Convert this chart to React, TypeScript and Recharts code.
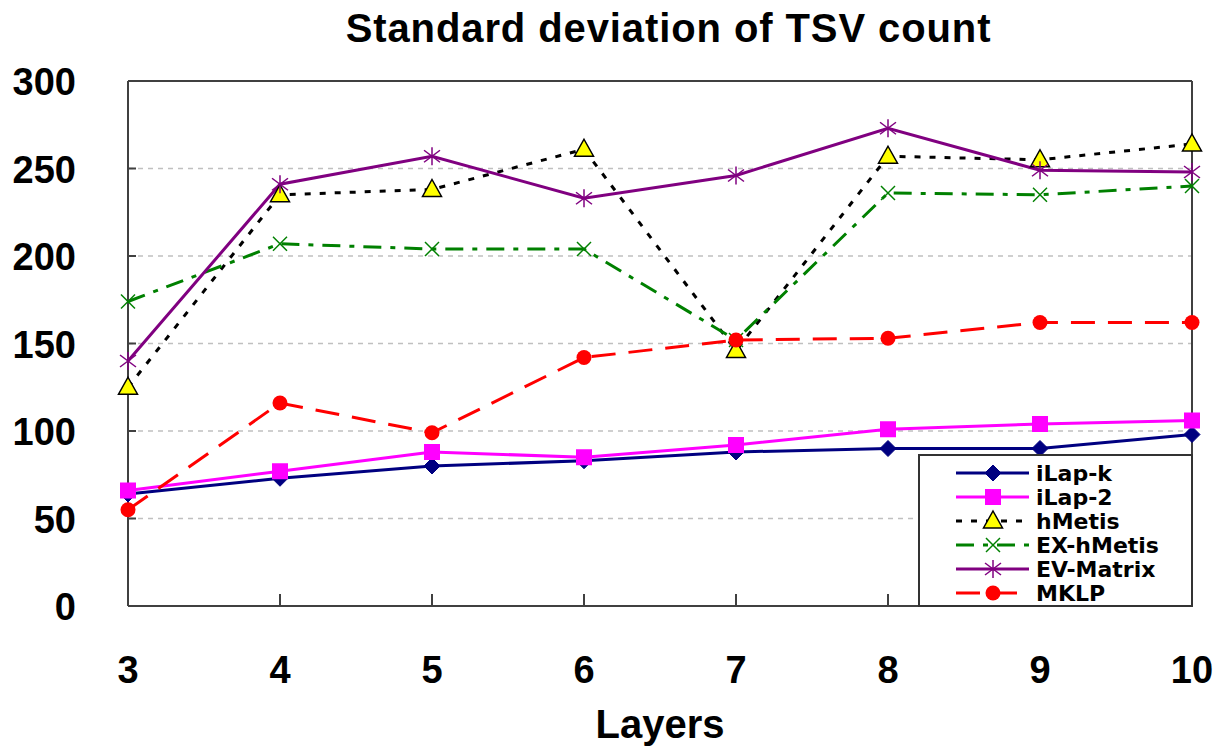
import React from 'react'
import {
  LineChart,
  Line,
  XAxis,
  YAxis,
  CartesianGrid,
  ReferenceLine,
  Legend,
} from 'recharts'

const FONT = "'Liberation Sans', Arial, Helvetica, sans-serif"
const LEGEND_FONT = "'DejaVu Sans', Verdana, sans-serif"

const layers = [3, 4, 5, 6, 7, 8, 9, 10]
const yTicks = [0, 50, 100, 150, 200, 250, 300]

const iLapK = [64, 73, 80, 83, 88, 90, 90, 98]
const iLap2 = [66, 77, 88, 85, 92, 101, 104, 106]
const hMetis = [125, 235, 238, 261, 146, 257, 255, 264]
const exHMetis = [174, 207, 204, 204, 152, 236, 235, 240]
const evMatrix = [140, 241, 257, 233, 246, 273, 249, 248]
const mklp = [55, 116, 99, 142, 152, 153, 162, 162]

type Shape = 'diamond' | 'square' | 'triangle' | 'cross' | 'star' | 'circle'

interface SeriesDef {
  key: string
  name: string
  values: number[]
  color: string
  dash?: string
  shape: Shape
}

const series: SeriesDef[] = [
  { key: 'ilapk', name: 'iLap-k', values: iLapK, color: '#000080', shape: 'diamond' },
  { key: 'ilap2', name: 'iLap-2', values: iLap2, color: '#ff00ff', shape: 'square' },
  { key: 'hmetis', name: 'hMetis', values: hMetis, color: '#000000', dash: '6 9', shape: 'triangle' },
  { key: 'exhmetis', name: 'EX-hMetis', values: exHMetis, color: '#008000', dash: '18 9 5 9', shape: 'cross' },
  { key: 'evmatrix', name: 'EV-Matrix', values: evMatrix, color: '#800080', shape: 'star' },
  { key: 'mklp', name: 'MKLP', values: mklp, color: '#ff0000', dash: '24 13', shape: 'circle' },
]

const data = layers.map((layer, i) => {
  const row: Record<string, number> = { layer }
  series.forEach((s) => {
    row[s.key] = s.values[i]
  })
  return row
})

function Marker({ shape, cx, cy, color }: { shape: Shape; cx: number; cy: number; color: string }) {
  switch (shape) {
    case 'diamond':
      return (
        <polygon
          points={`${cx},${cy - 8} ${cx + 8},${cy} ${cx},${cy + 8} ${cx - 8},${cy}`}
          fill={color}
          stroke={color}
        />
      )
    case 'square':
      return <rect x={cx - 8} y={cy - 8} width={16} height={16} fill={color} />
    case 'triangle':
      return (
        <polygon
          points={`${cx},${cy - 10} ${cx + 9.5},${cy + 7} ${cx - 9.5},${cy + 7}`}
          fill="#ffff00"
          stroke="#000"
          strokeWidth={1.5}
        />
      )
    case 'cross':
      return (
        <g stroke={color} strokeWidth={1.5}>
          <line x1={cx - 7} y1={cy - 7} x2={cx + 7} y2={cy + 7} />
          <line x1={cx - 7} y1={cy + 7} x2={cx + 7} y2={cy - 7} />
        </g>
      )
    case 'star':
      return (
        <g stroke={color} strokeWidth={1.5}>
          <line x1={cx} y1={cy - 9} x2={cx} y2={cy + 9} />
          <line x1={cx - 8} y1={cy - 6} x2={cx + 8} y2={cy + 6} />
          <line x1={cx - 8} y1={cy + 6} x2={cx + 8} y2={cy - 6} />
        </g>
      )
    default:
      return <circle cx={cx} cy={cy} r={7.5} fill={color} />
  }
}

function makeDot(s: SeriesDef) {
  return (props: any) => (
    <Marker key={`${s.key}-${props.index}`} shape={s.shape} cx={props.cx} cy={props.cy} color={s.color} />
  )
}

function YTick({ x, y, payload }: any) {
  return (
    <text x={x} y={y + 14} textAnchor="end" fontSize={38} fontWeight="bold" fontFamily={FONT} fill="#000">
      {payload.value}
    </text>
  )
}

function XTick({ x, y, payload }: any) {
  return (
    <text x={x} y={y + 28} textAnchor="middle" fontSize={38} fontWeight="bold" fontFamily={FONT} fill="#000">
      {payload.value}
    </text>
  )
}

function LegendBox() {
  const rowH = 24
  return (
    <svg width={275} height={153} style={{ display: 'block' }}>
      <rect x={1} y={1} width={273} height={151} fill="#fff" stroke="#333" strokeWidth={2} />
      {series.map((s, i) => {
        const cy = 19 + i * rowH
        return (
          <g key={s.key}>
            <line
              x1={38}
              x2={111}
              y1={cy}
              y2={cy}
              stroke={s.color}
              strokeWidth={3}
              strokeDasharray={s.dash}
            />
            <Marker shape={s.shape} cx={75} cy={cy} color={s.color} />
            <text x={118} y={cy + 8} fontSize={22} fontWeight="bold" fontFamily={LEGEND_FONT} fill="#000">
              {s.name}
            </text>
          </g>
        )
      })}
    </svg>
  )
}

export default function App() {
  return (
    <div style={{ position: 'absolute', left: 0, top: 0, width: 1227, height: 749, background: '#fff' }}>
      <div
        style={{
          position: 'absolute',
          left: 0,
          top: 6,
          width: 1337,
          textAlign: 'center',
          fontFamily: FONT,
          fontWeight: 'bold',
          fontSize: 40,
          letterSpacing: 0.9,
          lineHeight: '44px',
          color: '#000',
        }}
      >
        Standard deviation of TSV count
      </div>
      <LineChart width={1227} height={749} data={data} margin={{ top: 81, right: 35, bottom: 0, left: 0 }}>
        <CartesianGrid vertical={false} stroke="#c0c0c0" strokeDasharray="5 5" strokeWidth={1.5} />
        <XAxis
          dataKey="layer"
          type="number"
          domain={[3, 10]}
          ticks={layers}
          height={143}
          axisLine={{ stroke: '#404040', strokeWidth: 2 }}
          tickLine={{ stroke: '#404040', strokeWidth: 2 }}
          tickSize={-12}
          tickMargin={61}
          tick={<XTick />}
          label={{
            value: 'Layers',
            position: 'insideBottom',
            offset: 11,
            style: { fontSize: 40, fontWeight: 'bold', fontFamily: FONT, fill: '#000' },
          }}
        />
        <YAxis
          type="number"
          domain={[0, 300]}
          ticks={yTicks}
          width={128}
          axisLine={{ stroke: '#404040', strokeWidth: 2 }}
          tickLine={{ stroke: '#404040', strokeWidth: 2 }}
          tickSize={-8}
          tickMargin={60}
          tick={<YTick />}
        />
        <ReferenceLine y={300} stroke="#404040" strokeWidth={2} />
        <ReferenceLine x={10} stroke="#404040" strokeWidth={2} />
        {series.map((s) => (
          <Line
            key={s.key}
            dataKey={s.key}
            name={s.name}
            type="linear"
            stroke={s.color}
            strokeWidth={3}
            strokeDasharray={s.dash}
            dot={makeDot(s)}
            activeDot={false}
            isAnimationActive={false}
          />
        ))}
        <Legend
          layout="horizontal"
          verticalAlign="middle"
          align="center"
          content={() => <LegendBox />}
          wrapperStyle={{ position: 'absolute', left: 918, top: 454, width: 275, height: 153 }}
        />
      </LineChart>
    </div>
  )
}
